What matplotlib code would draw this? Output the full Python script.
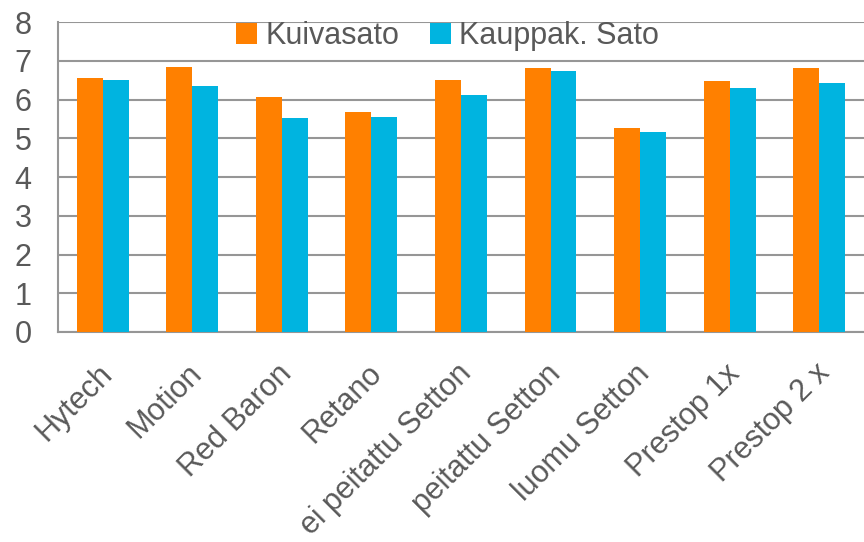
import numpy as np
import matplotlib.pyplot as plt
import matplotlib.transforms as mtransforms

plt.rcParams['font.family'] = ['Liberation Sans', 'DejaVu Sans']

categories = ['Hytech', 'Motion', 'Red Baron', 'Retano', 'ei peitattu Setton',
              'peitattu Setton', 'luomu Setton', 'Prestop 1x', 'Prestop 2 x']
kuivasato = [6.55, 6.85, 6.08, 5.67, 6.50, 6.81, 5.28, 6.49, 6.81]
kauppak_sato = [6.51, 6.34, 5.52, 5.54, 6.11, 6.73, 5.16, 6.31, 6.42]
series_names = ['Kuivasato', 'Kauppak. Sato']

text_col = '#595959'
grid_col = '#969696'
fs = 22

fig = plt.figure(figsize=(8.64, 5.42), dpi=100)
ax = fig.add_axes([0.067, 0.3875, 0.933, 0.5715])

x = np.arange(len(categories))
w = 0.29
ax.bar(x - w/2, kuivasato, w, color='#ff8000', label=series_names[0], zorder=3)
ax.bar(x + w/2, kauppak_sato, w, color='#00b4e0', label=series_names[1], zorder=3)

ax.set_xlim(-0.5, len(categories) - 0.5)
ax.set_ylim(0, 8)
ax.set_yticks(range(0, 9))
ax.yaxis.grid(True, color=grid_col, linewidth=1.5, zorder=0)
ax.set_axisbelow(True)

for s in ['top', 'right']:
    ax.spines[s].set_visible(False)
for s in ['left', 'bottom']:
    ax.spines[s].set_color(grid_col)
    ax.spines[s].set_linewidth(1.5)

ax.tick_params(axis='both', length=0, labelsize=fs, colors=text_col)
ax.tick_params(axis='y', pad=19)
ax.set_xticks(x)
ax.set_xticklabels(categories, rotation=45, ha='right', va='top',
                   rotation_mode='anchor')
ax.tick_params(axis='x', pad=19)
# nudge the rotated labels a bit left
shift = mtransforms.ScaledTranslation(-5 / 100, 0, fig.dpi_scale_trans)
for lab in ax.get_xticklabels():
    lab.set_transform(lab.get_transform() + shift)

leg = ax.legend(loc='center', bbox_to_anchor=(0.483, 0.955), ncol=2,
                frameon=False, fontsize=fs, handlelength=0.7, handleheight=0.7,
                handletextpad=0.25, columnspacing=1.0, labelcolor=text_col)

fig.savefig('out.png', dpi=100)
